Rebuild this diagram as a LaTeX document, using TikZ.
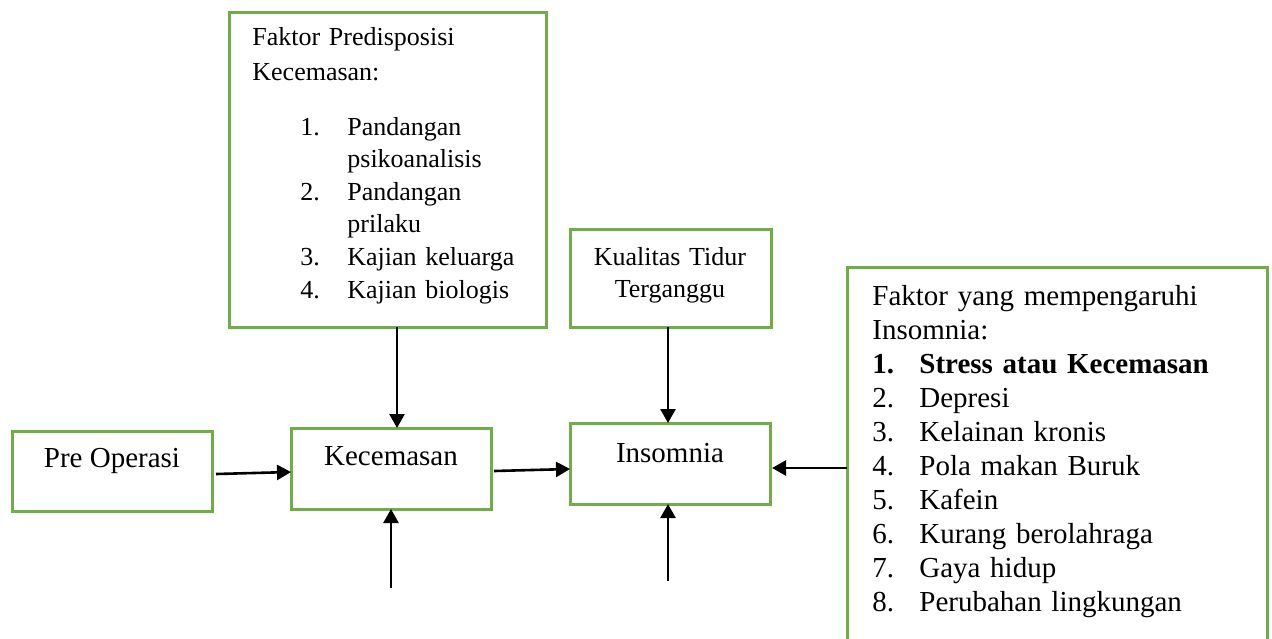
\documentclass[tikz,border=0pt]{standalone}
\usepackage{fontspec}
\setmainfont{Liberation Serif}
\usetikzlibrary{arrows.meta,calc}
\definecolor{boxgreen}{HTML}{70AD47}
\begin{document}
\begin{tikzpicture}[x=0.5pt,y=-0.5pt,
 box/.style={draw=boxgreen,line width=1.5pt,fill=white,inner sep=0pt,outer sep=0pt,anchor=north west},
 arr/.style={line width=1.3pt,-{Triangle[length=7pt,width=7.5pt]}},
 big/.style={font=\fontsize{14.5}{17}\selectfont},
 small/.style={font=\fontsize{13}{16.3}\selectfont},
 lbl/.style={inner sep=0pt}]
\useasboundingbox (0,0) rectangle (1272,638);
\clip (0,0) rectangle (1272,638);
% boxes
\node[box,minimum width=100pt,minimum height=40pt] (pre) at (12,431) {};
\node[box,minimum width=100pt,minimum height=40.5pt] (kec) at (291,428) {};
\node[box,minimum width=100pt,minimum height=40.5pt] (ins) at (570,423) {};
\node[box,minimum width=158.5pt,minimum height=157.5pt] (pred) at (229,12) {};
\node[box,minimum width=100.5pt,minimum height=49pt] (kual) at (570,229) {};
\node[box,minimum width=210pt,minimum height=210pt] (right) at (847,267) {};
% texts
\node[lbl,big,anchor=base] (preT) at (112,467) {Pre Operasi};
\node[lbl,big,anchor=base] (kecT) at (391,465) {Kecemasan};
\node[lbl,big,anchor=base] (insT) at (670,462) {Insomnia};
\node[lbl,small,anchor=base,text width=95pt,align=center,font=\fontsize{13}{16}\selectfont] (kualT) at (670,265) {Kualitas Tidur\\Terganggu};
\node[lbl,anchor=base west,text width=150pt,align=left,font=\fontsize{13}{17.5}\selectfont] (predH) at (252,45) {Faktor Predisposisi\\Kecemasan:};
\node[lbl,small,anchor=base west,text width=120pt,align=left] (predL) at (300,135) {\makebox[23.5pt][l]{1.}Pandangan\\\hspace*{23.5pt}psikoanalisis\\\makebox[23.5pt][l]{2.}Pandangan\\\hspace*{23.5pt}prilaku\\\makebox[23.5pt][l]{3.}Kajian keluarga\\\makebox[23.5pt][l]{4.}Kajian biologis};
\node[lbl,big,anchor=base west,text width=200pt,align=left] (rightT) at (872,305) {Faktor yang mempengaruhi\\Insomnia:\\\textbf{\makebox[23.5pt][l]{1.}Stress atau Kecemasan}\\\makebox[23.5pt][l]{2.}Depresi\\\makebox[23.5pt][l]{3.}Kelainan kronis\\\makebox[23.5pt][l]{4.}Pola makan Buruk\\\makebox[23.5pt][l]{5.}Kafein\\\makebox[23.5pt][l]{6.}Kurang berolahraga\\\makebox[23.5pt][l]{7.}Gaya hidup\\\makebox[23.5pt][l]{8.}Perubahan lingkungan};
% arrows
\draw[arr] ([xshift=4.75pt]pred.south) -- ([xshift=3pt]kec.north);
\draw[arr] ([xshift=-1.25pt]kual.south) -- ([xshift=-1pt]ins.north);
\draw[arr] ([shift={(4,3)}]pre.east) -- ([shift={(0,3.5)}]kec.west);
\draw[arr] ([shift={(3,2.5)}]kec.east) -- ([shift={(0,5.5)}]ins.west);
\draw[arr] ([shift={(0,-9)}]right.west) -- ([shift={(2,4.5)}]ins.east);
\coordinate (kecUp) at (391,588);
\coordinate (insUp) at (668,581);
\draw[arr] (kecUp) -- (kec.south);
\draw[arr] (insUp) -- ([xshift=-1pt]ins.south);
\end{tikzpicture}
\end{document}
